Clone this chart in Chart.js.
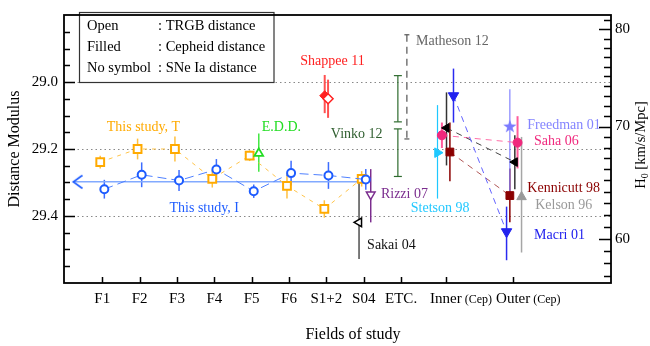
<!DOCTYPE html>
<html>
<head>
<meta charset="utf-8">
<script src="https://cdn.jsdelivr.net/npm/chart.js@4.4.1/dist/chart.umd.min.js"></script>
<style>
  body { margin: 0; background: #fff; }
  canvas { display: block; }
</style>
</head>
<body>
<canvas id="myChart" width="650" height="346"></canvas>
<script>
// fields on the x axis and where they sit
const fields = ['F1', 'F2', 'F3', 'F4', 'F5', 'F6', 'S1+2', 'S04', 'ETC.', 'Inner (Cep)', 'Outer (Cep)'];
const fieldX = [1, 2, 3, 4, 5, 6, 7, 8, 9, 10.2, 12];

// this study, F1 .. S04
const studyI = [29.320, 29.277, 29.294, 29.261, 29.326, 29.272, 29.279, 29.291];
const studyIErr = [0.028, 0.037, 0.031, 0.031, 0.020, 0.037, 0.040, 0.031];
const studyT = [29.239, 29.200, 29.200, 29.289, 29.220, 29.310, 29.379, 29.289];
const studyTErr = [0.019, 0.031, 0.037, 0.026, 0.016, 0.038, 0.026, 0.023];
const studyIMean = 29.298;
const studyIMeanSpan = [0.21, 8.1];

// other studies: [mu, lower, upper]
const edd = [[29.213, 29.154, 29.268]];
const shappeeCep = [[29.041, 28.979, 29.093]];
const shappeeTrgb = [[29.050, 28.993, 29.107]];
const sakaiTrgb = [[29.419, 29.291, 29.528]];
const rizziTrgb = [[29.336, 29.260, 29.419]];
const vinkoSn1 = [28.981, 29.119];
const vinkoSn2 = [29.140, 29.282];
const mathesonSn = [28.859, 29.170];
const stetsonCep = [[29.211, 29.069, 29.348]];
const sahaCep = [[29.159, 29.121, 29.197], [29.181, 29.102, 29.258]];
const sakaiCep = [[29.137, 29.031, 29.249], [29.239, 29.159, 29.320]];
const kennicuttCep = [[29.209, 29.121, 29.296], [29.339, 29.258, 29.419]];
const macriCep = [[29.041, 28.960, 29.121], [29.447, 29.372, 29.532]];
const freedmanCep = [[29.131, 29.022, 29.343]];
const kelsonCep = [[29.343, 29.164, 29.509]];

// axis ticks
const muLabels = [29.0, 29.2, 29.4];
const h0Labels = [60, 70, 80];
const mu70 = 29.133; // distance modulus where H0 = 70

const serif = '"Liberation Serif", "DejaVu Serif", serif';

function at(idx, dodge, vals) {
  return vals.map((v, i) => ({ x: fieldX[idx[i]] + dodge[i], y: v[0], lo: v[1], hi: v[2] }));
}
function bar(idx, dodge, v) {
  return [{ x: fieldX[idx] + dodge, y: v[0] }, { x: fieldX[idx] + dodge, y: v[1] }];
}
function muOfH0(h) { return mu70 - 5 * Math.log10(h / 70); }
function h0OfMu(m) { return 70 * Math.pow(10, (mu70 - m) / 5); }

function makeChevron(color) {
  const c = document.createElement('canvas');
  c.width = 20; c.height = 16;
  const g = c.getContext('2d');
  g.strokeStyle = color; g.lineWidth = 1.6;
  g.beginPath(); g.moveTo(19.5, 1.5); g.lineTo(10.5, 8); g.lineTo(19.5, 14.5); g.stroke();
  return c;
}
function makeStar(color) {
  const c = document.createElement('canvas');
  c.width = 16; c.height = 16;
  const g = c.getContext('2d');
  g.fillStyle = color;
  g.beginPath();
  for (let i = 0; i < 10; i++) {
    const r = i % 2 ? 2.8 : 7;
    const a = -Math.PI / 2 + i * Math.PI / 5;
    g.lineTo(8 + r * Math.cos(a), 8.8 + r * Math.sin(a));
  }
  g.closePath(); g.fill();
  return c;
}

const blue = '#1E5CFF', orange = '#FFAA00';

const datasets = [
  // Inner / Outer cepheids
  { data: at([9, 10], [0.203, -0.176], macriCep), showLine: true, borderColor: '#6262FF', borderDash: [6, 5], borderWidth: 1,
    pointStyle: 'triangle', rotation: 180, pointRadius: 6, pointBackgroundColor: '#2222EE', pointBorderColor: '#2222EE', errColor: '#2A2AF0' },
  { data: at([9, 10], [0.016, 0.045], sakaiCep), showLine: true, borderColor: '#444', borderDash: [6, 5], borderWidth: 1,
    pointStyle: 'triangle', rotation: 270, pointRadius: 5, pointBackgroundColor: '#000', pointBorderColor: '#000', errColor: '#333' },
  { data: at([9, 10], [-0.107, 0.118], sahaCep), showLine: true, borderColor: '#FF6FA8', borderDash: [6, 5], borderWidth: 1,
    pointStyle: 'circle', pointRadius: 4.5, pointBackgroundColor: '#F0287D', pointBorderColor: '#F0287D', errColor: '#FF5C9C', errWidth: 2 },
  { data: at([9, 10], [0.107, -0.088], kennicuttCep), showLine: true, borderColor: '#B05656', borderDash: [6, 5], borderWidth: 1,
    pointStyle: 'rect', pointRadius: 5.5, pointBackgroundColor: '#8B0000', pointBorderColor: '#8B0000', errColor: '#8B0000' },
  { data: at([9], [-0.225], stetsonCep), pointStyle: 'triangle', rotation: 90, pointRadius: 5.5,
    pointBackgroundColor: '#1EC8FF', pointBorderColor: '#1EC8FF', errColor: '#1EC8FF', errWidth: 1.2 },
  { data: at([10], [-0.088], freedmanCep), pointStyle: makeStar('#7B7BFF'), errColor: '#8484FF', errWidth: 1.2 },
  { data: at([10], [0.225], kelsonCep), pointStyle: 'triangle', pointRadius: 5.5,
    pointBackgroundColor: '#999', pointBorderColor: '#999', errColor: '#A6A6A6' },

  // TRGB references
  { data: at([7], [-0.126], sakaiTrgb), pointStyle: 'triangle', rotation: 270, pointRadius: 5, pointBorderWidth: 1.5,
    pointBackgroundColor: '#fff', pointBorderColor: '#000', errColor: '#222', errWidth: 1.2 },
  { data: at([7], [0.187], rizziTrgb), pointStyle: 'triangle', rotation: 180, pointRadius: 5, pointBorderWidth: 1.5,
    pointBackgroundColor: '#fff', pointBorderColor: '#7B2D8E', errColor: '#7B2D8E' },
  { data: at([4], [0.19], edd), pointStyle: 'triangle', pointRadius: 5, pointBorderWidth: 1.8,
    pointBackgroundColor: '#fff', pointBorderColor: '#22DD22', errColor: '#40E840' },
  { data: at([6], [0.045], shappeeTrgb), pointStyle: 'rectRot', pointRadius: 5, pointBorderWidth: 1.5,
    pointBackgroundColor: '#fff', pointBorderColor: '#FF2020', errColor: '#FF5050', errWidth: 2 },
  { data: at([6], [-0.045], shappeeCep), pointStyle: 'rectRot', pointRadius: 5,
    pointBackgroundColor: '#FF2020', pointBorderColor: '#FF2020', errColor: '#FF5050', errWidth: 2 },

  // SNe Ia, no symbol
  { data: bar(8, -0.086, vinkoSn1), showLine: true, borderColor: '#2E6B2E', borderWidth: 1.2,
    pointStyle: 'line', pointRadius: 4, pointBorderWidth: 1.2, pointBorderColor: '#2E6B2E' },
  { data: bar(8, -0.086, vinkoSn2), showLine: true, borderColor: '#2E6B2E', borderWidth: 1.2,
    pointStyle: 'line', pointRadius: 4, pointBorderWidth: 1.2, pointBorderColor: '#2E6B2E' },
  { data: bar(8, 0.155, mathesonSn), showLine: true, borderColor: '#555', borderWidth: 1.2, borderDash: [7, 5],
    pointStyle: 'line', pointRadius: 2.5, pointBorderWidth: 1.2, pointBorderColor: '#555' },

  // this study
  { data: studyI.map((v, i) => ({ x: fieldX[i] + 0.055, y: v, lo: v - studyIErr[i], hi: v + studyIErr[i] })),
    showLine: true, borderColor: '#4F80FF', borderDash: [9, 5], borderWidth: 1,
    pointStyle: 'circle', pointRadius: 4, pointBorderWidth: 2, pointBackgroundColor: '#fff', pointBorderColor: blue,
    errColor: '#3D6DFF' },
  { data: studyT.map((v, i) => ({ x: fieldX[i] - 0.055, y: v, lo: v - studyTErr[i], hi: v + studyTErr[i] })),
    showLine: true, borderColor: '#FFC44A', borderDash: [4, 5], borderWidth: 1,
    pointStyle: 'rect', pointRadius: 5.5, pointBorderWidth: 2, pointBackgroundColor: '#fff', pointBorderColor: orange,
    errColor: '#FFC040' },
  { data: [{ x: studyIMeanSpan[0], y: studyIMean }], pointStyle: makeChevron(blue) },
  { data: studyIMeanSpan.map(x => ({ x: x, y: studyIMean })), showLine: true, borderColor: '#82AAFF', borderWidth: 1.5, pointRadius: 0 }
];

const notes = [
  ['This study, T', 1.12, 29.136, orange],
  ['This study, I', 2.8, 29.376, blue],
  ['E.D.D.', 5.27, 29.136, '#22DD22'],
  ['Shappee 11', 6.3, 28.939, '#FF2020'],
  ['Matheson 12', 9.4, 28.878, '#666'],
  ['Vinko 12', 7.12, 29.157, '#2E5E2E'],
  ['Rizzi 07', 8.46, 29.336, '#7B2D8E'],
  ['Sakai 04', 8.09, 29.488, '#111'],
  ['Stetson 98', 9.26, 29.376, '#22C8FF'],
  ['Freedman 01', 12.38, 29.128, '#8484FF'],
  ['Saha 06', 12.56, 29.178, '#F0287D'],
  ['Kennicutt 98', 12.38, 29.317, '#8B0000'],
  ['Kelson 96', 12.59, 29.368, '#999'],
  ['Macri 01', 12.56, 29.457, '#2020EE']
];

const gridLines = {
  id: 'gridLines',
  beforeDatasetsDraw(chart) {
    const { ctx, chartArea: a, scales: { y } } = chart;
    ctx.save();
    ctx.strokeStyle = '#888'; ctx.lineWidth = 1; ctx.setLineDash([1.5, 3]);
    muLabels.forEach(m => {
      const py = Math.round(y.getPixelForValue(m)) + 0.5;
      ctx.beginPath(); ctx.moveTo(a.left, py); ctx.lineTo(a.right, py); ctx.stroke();
    });
    ctx.restore();
  }
};

const errorBars = {
  id: 'errorBars',
  beforeDatasetsDraw(chart) {
    const ctx = chart.ctx, y = chart.scales.y;
    chart.data.datasets.forEach((ds, i) => {
      if (!ds.errColor) return;
      const meta = chart.getDatasetMeta(i);
      ctx.save();
      ctx.strokeStyle = ds.errColor; ctx.lineWidth = ds.errWidth || 1.5;
      meta.data.forEach((pt, j) => {
        const raw = ds.data[j];
        ctx.beginPath();
        ctx.moveTo(pt.x, y.getPixelForValue(raw.lo));
        ctx.lineTo(pt.x, y.getPixelForValue(raw.hi));
        ctx.stroke();
      });
      ctx.restore();
    });
  }
};

const decor = {
  id: 'decor',
  afterDraw(chart) {
    const { ctx, chartArea: a, scales: { x, y, y2 } } = chart;
    ctx.save();
    // key box
    ctx.fillStyle = '#fff'; ctx.fillRect(79.5, 12.5, 194.5, 70);
    ctx.strokeStyle = '#333'; ctx.lineWidth = 1.2; ctx.strokeRect(79.5, 12.5, 194.5, 70);
    ctx.fillStyle = '#000'; ctx.font = '14.5px ' + serif; ctx.textBaseline = 'middle'; ctx.textAlign = 'left';
    [['Open', ': TRGB distance'], ['Filled', ': Cepheid distance'], ['No symbol', ': SNe Ia distance']].forEach((r, i) => {
      ctx.fillText(r[0], 87, 26.5 + i * 21);
      ctx.fillText(r[1], 158, 26.5 + i * 21);
    });

    // labels next to the marks
    ctx.font = '14px ' + serif;
    notes.forEach(n => {
      ctx.fillStyle = n[3];
      ctx.fillText(n[0], x.getPixelForValue(n[1]), y.getPixelForValue(n[2]));
    });

    // inward ticks
    ctx.strokeStyle = '#000'; ctx.lineWidth = 1.5;
    ctx.beginPath();
    fieldX.forEach(v => {
      const px = Math.round(x.getPixelForValue(v)) + 0.5;
      ctx.moveTo(px, a.bottom); ctx.lineTo(px, a.bottom - 6);
    });
    y.ticks.forEach(t => {
      const py = Math.round(y.getPixelForValue(t.value)) + 0.5;
      ctx.moveTo(a.left, py); ctx.lineTo(a.left + (t.label ? 11 : 6), py);
    });
    y2.ticks.forEach(t => {
      const py = Math.round(y2.getPixelForValue(t.value)) + 0.5;
      ctx.moveTo(a.right, py); ctx.lineTo(a.right - (t.label ? 12 : 7), py);
    });
    ctx.stroke();

    // frame
    ctx.lineWidth = 1.8;
    ctx.strokeRect(a.left, a.top, a.right - a.left, a.bottom - a.top);

    // x tick labels
    ctx.fillStyle = '#000'; ctx.textBaseline = 'middle';
    fields.forEach((f, i) => {
      const px = x.getPixelForValue(fieldX[i]);
      const parts = f.split(' ');
      ctx.font = '15px ' + serif; ctx.textAlign = 'center';
      ctx.fillText(parts[0], px, 299);
      if (parts[1]) {
        const w = ctx.measureText(parts[0]).width;
        ctx.font = '12px ' + serif; ctx.textAlign = 'left';
        ctx.fillText(parts[1], px + w / 2 + 3, 300);
      }
    });

    // x title
    ctx.font = '16px ' + serif; ctx.textAlign = 'center';
    ctx.fillText('Fields of study', 353, 335);

    // right title, reading upwards
    ctx.translate(641, 145); ctx.rotate(-Math.PI / 2);
    ctx.font = '14.5px ' + serif;
    const wH = ctx.measureText('H').width, wR = ctx.measureText(' [km/s/Mpc]').width;
    ctx.font = '10px ' + serif;
    const w0 = ctx.measureText('0').width;
    let sx = -(wH + w0 + wR) / 2;
    ctx.textAlign = 'left';
    ctx.font = '14.5px ' + serif; ctx.fillText('H', sx, 0);
    ctx.font = '10px ' + serif; ctx.fillText('0', sx + wH, 4);
    ctx.font = '14.5px ' + serif; ctx.fillText(' [km/s/Mpc]', sx + wH + w0, 0);
    ctx.restore();
  }
};

const ctx = document.getElementById('myChart').getContext('2d');
const myChart = new Chart(ctx, {
  type: 'scatter',
  data: { datasets: datasets },
  options: {
    responsive: false,
    animation: false,
    layout: { padding: { top: 3, left: 0, right: 0, bottom: 0 } },
    plugins: { legend: { display: false }, tooltip: { enabled: false } },
    scales: {
      x: {
        type: 'linear', position: 'bottom', min: -0.025, max: 14.62,
        afterBuildTicks: s => { s.ticks = fieldX.map(v => ({ value: v })); },
        ticks: { display: false },
        grid: { display: false, drawTicks: false },
        border: { display: false },
        afterFit: s => { s.height = 63; }
      },
      y: {
        type: 'linear', position: 'left', reverse: true, min: 28.8, max: 29.6,
        afterBuildTicks: s => {
          const t = [];
          for (let k = 1; k < 16; k++) t.push({ value: 28.8 + k * 0.05 });
          s.ticks = t;
        },
        ticks: {
          autoSkip: false, padding: 6, color: '#000', font: { family: serif, size: 15 },
          callback: v => muLabels.some(m => Math.abs(m - v) < 1e-6) ? v.toFixed(1) : ''
        },
        grid: { display: false, drawTicks: false },
        border: { display: false },
        title: { display: true, text: 'Distance Modulus', color: '#000', font: { family: serif, size: 16 }, padding: { top: 5, bottom: 0 } },
        afterFit: s => { s.width = 64; }
      },
      y2: {
        type: 'linear', position: 'right', reverse: true, min: 28.8, max: 29.6,
        afterBuildTicks: s => {
          const t = [];
          for (let h = 57; h <= 81; h++) t.push({ value: muOfH0(h) });
          s.ticks = t;
        },
        ticks: {
          autoSkip: false, padding: 4, color: '#000', font: { family: serif, size: 15 },
          callback: v => { const h = Math.round(h0OfMu(v)); return h0Labels.includes(h) ? String(h) : ''; }
        },
        grid: { display: false, drawTicks: false },
        border: { display: false },
        afterFit: s => { s.width = 39; }
      }
    }
  },
  plugins: [gridLines, errorBars, decor]
});
</script>
</body>
</html>
